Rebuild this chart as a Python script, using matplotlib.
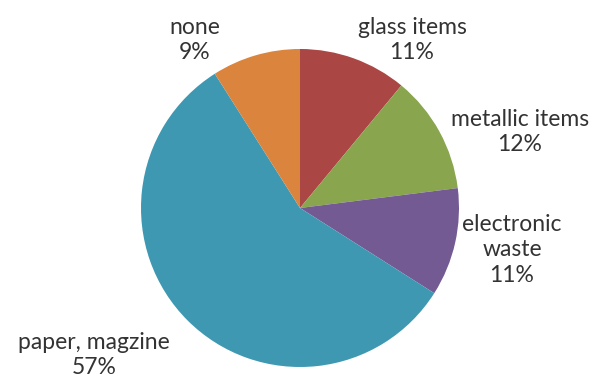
import matplotlib
matplotlib.use('Agg')
import matplotlib.pyplot as plt

# data (clockwise from 12 o'clock)
labels = ['glass items', 'metallic items', 'electronic\nwaste', 'paper, magzine', 'none']
values = [11, 12, 11, 57, 9]
colors = ['#AA4643', '#89A54E', '#745A93', '#3F98B2', '#DB843D']

# label centres in pixels of the 606x385 image
label_px = [(412, 40), (520, 132), (512, 250), (94, 355), (195, 40)]

W, H = 606, 385
cx, cy, r = 300, 208, 159

fig = plt.figure(figsize=(W / 100, H / 100), dpi=100)
ax = fig.add_axes([(cx - r) / W, (H - cy - r) / H, 2 * r / W, 2 * r / H])
ax.pie(values, colors=colors, startangle=90, counterclock=False, radius=1,
       wedgeprops=dict(linewidth=0))
ax.set_xlim(-1, 1)
ax.set_ylim(-1, 1)
ax.set_aspect('equal')
ax.axis('off')

for lab, v, (px, py) in zip(labels, values, label_px):
    fig.text(px / W, 1 - py / H, '%s\n%d%%' % (lab, v), ha='center', va='center',
             fontsize=16.5, family='Lato', color='#333333', linespacing=1.25)

fig.savefig('out.png', dpi=100, facecolor='white')
